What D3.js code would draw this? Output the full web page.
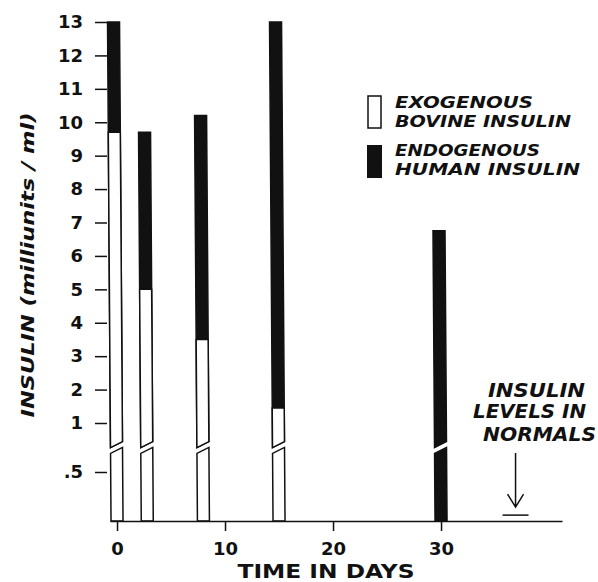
<!DOCTYPE html>
<html lang="en">
<head>
    <meta charset="UTF-8">
    <script src="https://cdn.jsdelivr.net/npm/d3@7"></script>
    <title>Insulin levels</title>
    <style>
        html, body {
            margin: 0px;
            padding: 0px;
            background-color: #fff;
        }
        svg text {
            font-family: "DejaVu Sans", sans-serif;
            font-weight: bold;
            fill: #111;
        }
    </style>
</head>
<body>
    <div id="chart"></div>
    <script>
        // data
        let days = [0, 2.8, 8, 15, 30];
        let exogenous = [9.7, 5.0, 3.5, 1.45, 0];
        let endogenous = [3.3, 4.7, 6.7, 11.55, 6.75];
        let y_ticks = [0.5, 1, 2, 3, 4, 5, 6, 7, 8, 9, 10, 11, 12, 13];
        let x_ticks = [0, 10, 20, 30];
        let normal_days = [35.7, 38.1];
        let normal_value = 0.06;
        let break_lo = 0.72, break_hi = 0.78;

        let width = 598, height = 582;
        let bar_w = 12, slant = 3;

        let svg = d3.select('#chart').append('svg')
            .attr('width', width).attr('height', height);

        let x = d3.scaleLinear().domain([-0.65, 41.2]).range([110, 562]);
        // axis is broken between .5 and 1, lower part stretched
        let y = d3.scaleLinear().domain([0, 1, 13]).range([521, 423, 22]);

        // hand drawn bars lean a little to the left going up
        let lean = py => (py - y(0)) * 0.007;
        let pts = arr => arr.map(([px, py]) => [px + lean(py), py]).join(' ');

        let bars = days.map((d, i) => ({ day: d, exo: exogenous[i], endo: endogenous[i] }));

        let g = svg.append('g');
        bars.forEach(b => {
            let x0 = x(b.day) - bar_w / 2, x1 = x(b.day) + bar_w / 2;
            let total = b.exo + b.endo;
            let lo_top = y(break_lo), hi_bot = y(break_hi);
            // upper part, black for the whole height
            g.append('polygon')
                .attr('points', pts([[x0, hi_bot + slant], [x1, hi_bot - slant], [x1, y(total)], [x0, y(total)]]))
                .attr('fill', '#111').attr('stroke', '#111').attr('stroke-width', 1.5);
            // white exogenous part in upper section
            if (b.exo > break_hi) {
                g.append('polygon')
                    .attr('points', pts([[x0, hi_bot + slant], [x1, hi_bot - slant], [x1, y(b.exo)], [x0, y(b.exo)]]))
                    .attr('fill', '#fff').attr('stroke', '#111').attr('stroke-width', 1.5);
            }
            // lower part below the break
            g.append('polygon')
                .attr('points', pts([[x0, y(0)], [x1, y(0)], [x1, lo_top - slant], [x0, lo_top + slant]]))
                .attr('fill', b.exo > 0 ? '#fff' : '#111')
                .attr('stroke', '#111').attr('stroke-width', 1.5);
        });

        // axes
        let x_axis = svg.append('g')
            .attr('transform', `translate(0,${y(0)})`)
            .call(d3.axisBottom(x).tickValues(x_ticks).tickSize(10).tickSizeOuter(0).tickPadding(11));
        x_axis.select('.domain').attr('stroke', '#111').attr('stroke-width', 1.5);
        x_axis.selectAll('.tick line').attr('stroke', '#111').attr('stroke-width', 1.5);
        x_axis.selectAll('.tick text').attr('font-size', 18).attr('font-family', '"DejaVu Sans", sans-serif').attr('font-weight', 'bold').attr('fill', '#111');

        let y_axis = svg.append('g')
            .attr('transform', `translate(107,0)`)
            .call(d3.axisLeft(y).tickValues(y_ticks).tickSize(12).tickPadding(12)
                .tickFormat(d => d < 1 ? '.5' : d));
        y_axis.select('.domain').remove();
        y_axis.selectAll('.tick line').attr('stroke', '#111').attr('stroke-width', 1.5);
        y_axis.selectAll('.tick text').attr('font-size', 18).attr('font-family', '"DejaVu Sans", sans-serif').attr('font-weight', 'bold').attr('fill', '#111');

        // axis titles
        svg.append('text')
            .attr('x', 326).attr('y', 578)
            .attr('text-anchor', 'middle')
            .attr('font-size', 19)
            .attr('textLength', 177).attr('lengthAdjust', 'spacingAndGlyphs')
            .text('TIME IN DAYS');

        svg.append('text')
            .attr('transform', 'translate(34,265) rotate(-90)')
            .attr('text-anchor', 'middle')
            .attr('font-size', 17).attr('font-style', 'italic')
            .attr('textLength', 305).attr('lengthAdjust', 'spacingAndGlyphs')
            .text('INSULIN  (milliunits / ml)');

        // legend
        let legend = svg.append('g');
        legend.append('rect').attr('x', 368).attr('y', 96).attr('width', 13).attr('height', 32)
            .attr('fill', '#fff').attr('stroke', '#111').attr('stroke-width', 1.5);
        legend.append('rect').attr('x', 367).attr('y', 145).attr('width', 15).attr('height', 33)
            .attr('fill', '#111');

        let legend_lines = [
            { text: 'EXOGENOUS', y: 108, len: 138 },
            { text: 'BOVINE INSULIN', y: 127, len: 176 },
            { text: 'ENDOGENOUS', y: 156, len: 145 },
            { text: 'HUMAN INSULIN', y: 175, len: 185 }
        ];
        legend.selectAll('text.leg').data(legend_lines).join('text')
            .attr('class', 'leg')
            .attr('x', 395).attr('y', d => d.y)
            .attr('font-size', 15).attr('font-style', 'italic')
            .attr('textLength', d => d.len).attr('lengthAdjust', 'spacingAndGlyphs')
            .text(d => d.text);

        // normal levels annotation
        let note_lines = [
            { text: 'INSULIN', x: 488, y: 397, len: 97 },
            { text: 'LEVELS IN', x: 473, y: 418, len: 113 },
            { text: 'NORMALS', x: 483, y: 441, len: 113 }
        ];
        svg.selectAll('text.note').data(note_lines).join('text')
            .attr('class', 'note')
            .attr('x', d => d.x).attr('y', d => d.y)
            .attr('font-size', 19).attr('font-style', 'italic')
            .attr('textLength', d => d.len).attr('lengthAdjust', 'spacingAndGlyphs')
            .text(d => d.text);

        svg.append('line')
            .attr('x1', x(normal_days[0])).attr('x2', x(normal_days[1]))
            .attr('y1', y(normal_value)).attr('y2', y(normal_value))
            .attr('stroke', '#111').attr('stroke-width', 1.5);

        let ax = x(d3.mean(normal_days));
        let tip = y(normal_value) - 8;
        svg.append('path')
            .attr('d', `M${ax},453 L${ax},${tip} M${ax - 8},${tip - 13} L${ax},${tip} L${ax + 8},${tip - 13}`)
            .attr('fill', 'none').attr('stroke', '#111').attr('stroke-width', 1.5);
    </script>
</body>
</html>
